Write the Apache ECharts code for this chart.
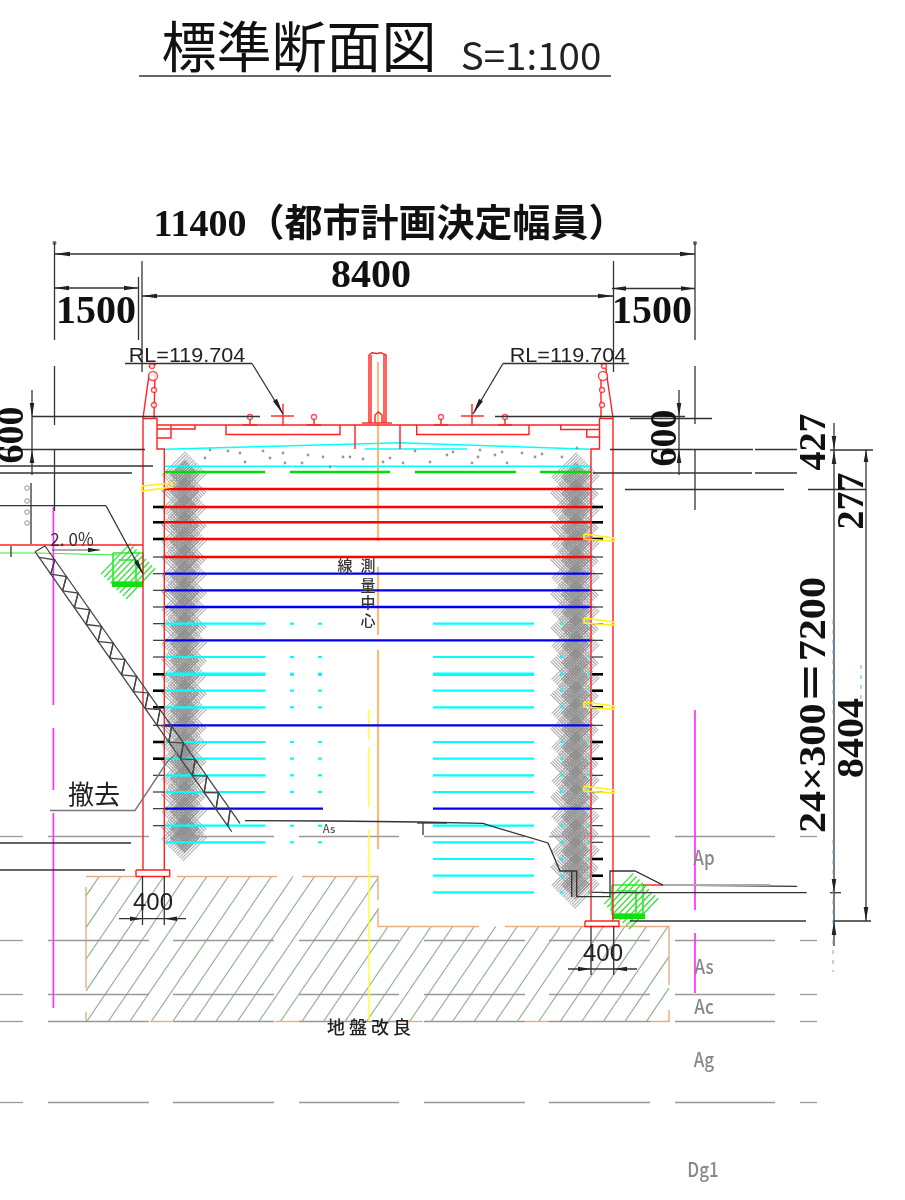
<!DOCTYPE html>
<html><head><meta charset="utf-8">
<style>html,body{margin:0;padding:0;background:#fff}#c{width:905px;height:1200px}</style>
<script src="https://cdn.jsdelivr.net/npm/echarts@6/dist/echarts.min.js"></script>
</head><body><div id="c"></div>
<script>
const redRows  = [489,507,522.3,539,557];
const blueRows = [573.7,590.3,607,640.3,725.3];
const cyanRows = [623.7,657,690.7,707.3,742,758.7,775.3,792,825.7,842.3];
const cyanRowHeavy = [674.3];
const cyanRowsRightOnly = [859,875.7,892.3];
const blueRowShort = [808.7];
const stubsLeftThick  = [507,522.3,539,674.3,690.7,707.3,742,758.7];
const stubsLeftThin   = [557,573.7,590.3,607,623.7,640.3,657,725.3,775.3,792,808.7,825.7];
const stubsRightThick = [507,522.3,539,674.3,690.7,707.3,742,758.7,859,875.7];
const stubsRightThin  = [489,557,573.7,590.3,607,623.7,640.3,657,725.3,775.3,792,808.7,825.7,842.3,892.3];
const strataRows = [836.5,940.5,994.5,1021.5,1102.5];
const strataSpans = [[0,23],[48,149],[173,274],[299,399],[424,525],[549,650],[675,775],[800,817]];
const pileCentersLeft  = [474,508,541,575,609,643,676,710,744,778,811,838];
const pileCentersRight = [476,510,543,577,611,645,678,712,746,780,816,850,884];
const gravelDots = [[205,458],[210,450],[228,451],[240,453],[245,462],[263,451],[270,458],[283,453],[285,463],[302,463],[308,455],[323,457],[330,467],[343,457],[350,457],[363,459],[383,462],[390,458],[403,463],[415,451],[430,462],[447,455],[453,452],[472,463],[478,457],[480,450],[495,455],[502,452],[507,463],[522,453],[535,457],[542,454],[562,457],[577,448]];
const trussPanels = [0.02,0.08,0.14,0.2,0.26,0.32,0.38,0.44,0.5,0.56,0.62,0.68,0.74,0.8,0.86,0.92];
const groundOutline = [[86,876.5],[378,876.5],[378,926.5],[669,926.5],[669,1021.5],[86,1021.5]];

const dimLines = [
 [54.5,254,695,254],[142,296,613.5,296],[54.5,288,138.5,288],[612,288.5,695,288.5],
 [54.5,243,54.5,340],[54.5,366,54.5,425],[54.5,450,54.5,511],[695,243,695,340],[695,366,695,424],[695,450,695,510],
 [142,261,142,372],[613.5,261,613.5,372],[138.5,277,138.5,340],
 [32,390,32,475],[679,390,679,475],
 [32,416.5,260,416.5],[495,416.5,685,416.5],[630,418.5,712,418.5],
 [0,449.5,145,449.5],[610,449.5,753,449.5],[755,449.5,797,449.5],
 [0,466,153,466],[0,473,132,473],[593,473,752,473],[755,473,797,473],
 [625,489.5,784,489.5],[808,489.5,866,489.5],
 [834,423,834,946],[866,450,866,921],[830,450,873,450],
 [601.7,892.7,806.7,892.7],[830,892.7,841,892.7],[630,921,806,921],[833,921,871,921],
 [142.5,876,142.5,925],[164.3,876,164.3,925],[119,918.7,186,918.7],
 [591,926,591,975],[613.7,926,613.7,975],[568,969,637,969],
 [0,843,131,843],[0,870,125,870],
 [125,363.5,252,363.5],[252,363.5,283,414],[503,363.5,629,363.5],[503,363.5,473,414],
 [0,505.7,106,505.7],[106,505.7,143,574],[31,483,31,544],[11,546,11,557],[139,76,611,76]
];
const arrowHeads = [
 [54.5,254,70,254],[695,254,680,254],[142,296,157,296],[613.5,296,598,296],
 [54.5,288,69,288],[138.5,288,124,288],[612,288.5,626,288.5],[695,288.5,681,288.5],
 [32,416.5,32,403],[32,449.5,32,463],[679,416.5,679,403],[679,449.5,679,463],
 [834,450,834,436],[834,450,834,464],[866,450,866,462],[834,892.7,834,879],[834,921,834,935],[866,921,866,907],
 [142.5,918.7,130,918.7],[164.3,918.7,177,918.7],[591,969,578,969],[613.7,969,627,969],
 [283,414,275,400],[473,414,481,400],[143,574,136,561],[100,550,88,550]
];
const wallLines = [
 [143,870,143,418.5,157,418.5,157,449,164.3,449,164.3,870],
 [136,870,169.7,870,169.7,876.5,136,876.5,136,870],
 [613,921,613,418.5,599.5,418.5,599.5,449,591,449,591,921],
 [585,921,619,921,619,926.5,585,926.5,585,921],
 [157,425,226,425],[226,425,226,434.5,340,434.5,340,425],[226,425,355,425],
 [355,449,355,425,400,425,400,449],[400,425,599.5,425],
 [416.7,425,416.7,434.5,529,434.5,529,425],
 [157,429,195,429,195,425],[157,438,171,438,171,425],
 [560.7,425,560.7,429.5,599.5,429.5],[586.7,429.5,586.7,437,599.5,437],
 [271,416,294,416],[283,404,283,425],[461,416,484,416],[472,404,472,425],
 [369,423,369,355,372,352.7,377,353.5,381,352.7,386,355,386,423],[371,423,371,355],[384,423,384,355],
 [375,423,375,415,378.5,412,382,415,382,423],[362,423,392,423],
 [143,418,149,375],[155,372,154,418],[606,370,613,418],[601,380,601,418],
 [243,425,257,425],[307,425,321,425],[434,425,448,425],[498,425,512,425],
 [250,425,250,418],[314,425,314,418],[441,425,441,418],[505,425,505,418],
 [149,367,156,364],[601,364,607,370],[643,885,663,885],[0,545,143,545]
];
const railCircles = [[250,417],[314,417],[441,417],[505,417],[154,390],[154,405],[602,390],[602,405],[152,366],[604,366]];
const railBigCircles = [[153,376],[603,376]];
const groundProfile = [245,820.7,330,821,420,822,483,823.3,493,826.7,548,843,560,871,576.7,871,576.7,896.7,610,896.7,610,871,635,871,663,885,797,886.3];
const profileExtra = [[571.7,871,571.7,897],[417,823,447,823],[423,823,423,835]];
const profileGrey = [[663,885,770,885]];
const leaderGrey = [[50,810.5,135,810.5,167,762,178,752]];
const slabCyan = [[165,449.3,400,442.7,590,449.3],[164,466.3,591,466.3],[365,449,467,449]];
const greenRows = [[164,265],[290,390],[415,516],[540,591]];
const greenThin = [[0,553,35,553],[37,553,118,555]];
const orangeAxis = [[378,362],[378,541],[378,567],[378,635],[378,650],[378,849]];
const yellowAxis = [[369,710,369,740],[369,747,369,807],[369,830,369,1021]];
const magentaLines = [[53.4,507,53.4,705],[53.4,728,53.4,790],[53.4,813,53.4,1008],[695,710,695,910],[695,933,695,993]];
const yellowWales = [
 [142,486,172,483,172,487,142,491,142,486],
 [584,534,614,538,614,541,584,539,584,534],[584,618,614,622,614,625,584,623,584,618],
 [584,702,614,706,614,709,584,707,584,702],[584,786,614,790,614,793,584,791,584,786]
];
const greenBlockLeft  = {centre:[128,571],box:[[113,553,143,553,143,582,113,582,113,553],[119,560,136,560,136,582]],heavy:[112,584.5,143,584.5]};
const greenBlockRight = {centre:[631,901],box:[[612,885,643,885,643,914,612,914,612,885],[618,891,636,891,636,914]],heavy:[612,916.5,645,916.5]};
const blueDashes = [[833,620,833,720],[833,840,833,972],[861,665,861,700]];

// ---------- helpers (geometry only) ----------
const toPts = f => { const p=[]; for(let i=0;i<f.length;i+=2) p.push([f[i],f[i+1]]); return p; };
const lineSeries = (color,width,polys,z,type) => ({type:'lines',coordinateSystem:'cartesian2d',polyline:true,silent:true,z:z||3,
  lineStyle:{color,width,opacity:1,type:type||'solid',cap:'butt'},data:polys.map(f=>({coords:toPts(f)}))});
function hatch(poly,dx,dy,spacing,through){
  const m=Math.hypot(dx,dy),ux=dx/m,uy=dy/m,nx=-uy,ny=ux,out=[];
  const cs=poly.map(p=>p[0]*nx+p[1]*ny),lo=Math.min(...cs),hi=Math.max(...cs);
  const c0=through?through[0]*nx+through[1]*ny:lo;
  let c=c0+Math.ceil((lo-c0)/spacing)*spacing;
  for(;c<=hi;c+=spacing){
    const ts=[];
    poly.forEach((a,i)=>{const b=poly[(i+1)%poly.length],ca=a[0]*nx+a[1]*ny,cb=b[0]*nx+b[1]*ny;
      if((ca<c)!==(cb<c)){const k=(c-ca)/(cb-ca);ts.push((a[0]+k*(b[0]-a[0]))*ux+(a[1]+k*(b[1]-a[1]))*uy);}});
    ts.sort((p,q)=>p-q);
    for(let i=0;i+1<ts.length;i+=2) out.push([ts[i]*ux+c*nx,ts[i]*uy+c*ny,ts[i+1]*ux+c*nx,ts[i+1]*uy+c*ny]);
  }
  return out;
}
const diamond = (x,y,r)=>[[x-r,y],[x,y-r],[x+r,y],[x,y+r]];
const hatchDiamonds = (cx,list,r,dx,dy,s)=>list.flatMap(y=>hatch(diamond(cx,y,r),dx,dy,s));
const hRows = (ys,x0,x1)=>ys.map(y=>[x0,y,x1,y]);
const dotsAt = ys => ys.flatMap(y=>[[290,y,294,y],[318,y,322,y],[560,y,563,y],[588,y,591,y]]);
const dotsRight = ys => ys.flatMap(y=>[[560,y,563,y],[588,y,591,y]]);
const strata = strataRows.flatMap(y=>strataSpans.map(s=>[s[0],y,s[1],y]));
const L=t=>[35+196.7*t,551.7+280*t], R=t=>[45+195*t,546+277.3*t];
const truss=[[35,551.7,231.7,831.7],[45,546,240,823.3],[35,551.7,45,546]].concat(
  trussPanels.map(t=>[...L(t),...R(t+0.03),...L(t+0.06)]),
  trussPanels.map(t=>[...L(t+0.06),...R(t+0.03+0.0)]));
const axisPairs=[]; for(let i=0;i<orangeAxis.length;i+=2) axisPairs.push([...orangeAxis[i],...orangeAxis[i+1]]);

const series=[
  lineSeries('#8fb08c',1.2,hatch(groundOutline,0.68,-1,17.8,[86.7,1021.5]),2),
  lineSeries('#e3ae82',1.4,[[86,876.5,135,876.5],[177,876.5,277,876.5],[302,876.5,378,876.5,378,900],[378,908,378,926.5,479,926.5],[505,926.5,669,926.5,669,985],[669,1010,669,1021.5,650,1021.5],[525,1021.5,550,1021.5],[150,1021.5,172,1021.5],[275,1021.5,300,1021.5],[400,1021.5,423,1021.5],[86,887,86,988],[86,1012,86,1021.5]],2),
  lineSeries('#b0b0b0',1.1,hatchDiamonds(184,pileCentersLeft,24,1,-1,2.3),2),
  lineSeries('#b0b0b0',1.1,hatchDiamonds(575,pileCentersRight,25,1,-1,2.3),2),
  lineSeries('#a8a8a8',1.1,hatchDiamonds(184,pileCentersLeft.map(y=>y+17).slice(0,-1),24,1,1,2.3),2),
  lineSeries('#a8a8a8',1.1,hatchDiamonds(575,pileCentersRight.map(y=>y+17).slice(0,-1),25,1,1,2.3),2),
  lineSeries('#8e8e8e',1.2,hatchDiamonds(184,pileCentersLeft.flatMap(y=>[y,y+17]).slice(0,-1),15,1,-1,1.9),2),
  lineSeries('#8e8e8e',1.2,hatchDiamonds(575,pileCentersRight.flatMap(y=>[y,y+17]).slice(0,-1),15,1,-1,1.9),2),
  lineSeries('#999999',1.3,strata,3),
  lineSeries('#ff9a30',1.4,axisPairs,3),
  lineSeries('#ffff30',1.4,yellowAxis,3),
  lineSeries('#ff30ff',1.7,magentaLines,3),
  lineSeries('#40e040',1.4,[...hatch(diamond(...greenBlockLeft.centre,30),1,-1.05,4.4),...hatch(diamond(...greenBlockRight.centre,30),1,-1.05,4.4)],3),
  lineSeries('#22ee22',1.6,[...greenBlockLeft.box,...greenBlockRight.box],3),
  lineSeries('#10e010',5,[greenBlockLeft.heavy,greenBlockRight.heavy],3),
  lineSeries('#30f030',1,greenThin,3),
  lineSeries('#00ffff',1.4,slabCyan,4),
  lineSeries('#00e000',2.6,greenRows.map(s=>[s[0],472,s[1],472]),4),
  lineSeries('#ff0000',2.5,hRows(redRows,164,592),4),
  lineSeries('#0000ee',2.3,hRows(blueRows,164,592),4),
  lineSeries('#0000ee',2.3,hRows(blueRowShort,164,323).concat(hRows(blueRowShort,433,592)),4),
  lineSeries('#00ffff',2.2,hRows(cyanRows,164,265.5).concat(hRows(cyanRows,433,534),dotsAt(cyanRows),hRows(cyanRowsRightOnly,433,534),dotsRight(cyanRowsRightOnly)),4),
  lineSeries('#00ffff',3.4,hRows(cyanRowHeavy,164,265.5).concat(hRows(cyanRowHeavy,433,534),dotsAt(cyanRowHeavy)),4),
  lineSeries('#ff2020',1.4,wallLines,5),
  lineSeries('#000000',2.6,hRows(stubsLeftThick,153,164).concat(hRows(stubsRightThick,592,603)),5),
  lineSeries('#222222',1.1,hRows(stubsLeftThin,153,164).concat(hRows(stubsRightThin,592,603)),5),
  lineSeries('#ffef20',1.7,yellowWales,6),
  lineSeries('#444444',1.3,truss,6),
  lineSeries('#333333',1.3,[groundProfile,...profileExtra],6),
  lineSeries('#aaaaaa',2,profileGrey,6),
  lineSeries('#777777',1.4,leaderGrey,6),
  lineSeries('#333333',1.3,dimLines,7),
  lineSeries('#555555',1,[[52,550,100,550]],7),
  lineSeries('#66aadd',1,blueDashes,7,[4,6]),
  {type:'scatter',coordinateSystem:'cartesian2d',silent:true,z:6,symbolSize:2.8,itemStyle:{color:'#808080'},data:gravelDots},
  {type:'scatter',silent:true,z:6,symbolSize:5,itemStyle:{color:'#fff',borderColor:'#ff2020',borderWidth:1.3},data:railCircles},
  {type:'scatter',silent:true,z:6,symbolSize:9,itemStyle:{color:'#fff',borderColor:'#ff2020',borderWidth:1.4},data:railBigCircles},
  {type:'scatter',silent:true,z:6,symbolSize:4,itemStyle:{color:'#444'},data:[[54.5,243],[695,243]]},
  {type:'scatter',silent:true,z:6,symbolSize:4.5,itemStyle:{color:'#fff',borderColor:'#777',borderWidth:1},data:[[27,488],[27,501],[27,512],[27,523]]},
  {type:'custom',coordinateSystem:'cartesian2d',silent:true,z:8,data:arrowHeads,
   renderItem:(p,api)=>{
     const a=api.coord([api.value(0),api.value(1)]),b=api.coord([api.value(2),api.value(3)]);
     const dx=b[0]-a[0],dy=b[1]-a[1],m=Math.hypot(dx,dy),nx=-dy/m*2.3,ny=dx/m*2.3;
     return {type:'polygon',shape:{points:[a,[b[0]+nx,b[1]+ny],[b[0]-nx,b[1]-ny]]},style:{fill:'#222'}};
   },encode:{x:0,y:1}}
];

// ---------- texts ----------
const serif="'Liberation Serif','Noto Sans CJK JP'", cjk="'Noto Sans CJK JP'", sans="'Liberation Sans','Noto Sans CJK JP'";
const T=(text,x,y,font,fill,extra)=>Object.assign({type:'text',x,y,z:100,silent:true,style:{text,font,fill:fill||'#111',align:'center',verticalAlign:'middle'}},extra||{});
const up={rotation:Math.PI/2};
const texts=[
  T('標準断面図',299,46,`400 55px ${cjk}`,'#111'),
  T('S=1:100',531,56,`400 36px ${cjk}`,'#222',{scaleX:1.07,scaleY:1.05}),
  T('11400（都市計画決定幅員）',390,226,`bold 38px ${serif}`),
  T('8400',371,277,`bold 40px ${serif}`),
  T('1500',96,313,`bold 40px ${serif}`),
  T('1500',652,313,`bold 40px ${serif}`),
  T('600',13,435,`bold 38px ${serif}`,'#111',up),
  T('600',666,438,`bold 38px ${serif}`,'#111',up),
  T('427',815,442,`bold 38px ${serif}`,'#111',up),
  T('277',853,501,`bold 38px ${serif}`,'#111',up),
  T('24×300＝7200',815,705,`bold 38px ${serif}`,'#111',{rotation:Math.PI/2,scaleX:1.11}),
  T('8404',853,738,`bold 38px ${serif}`,'#111',{rotation:Math.PI/2,scaleX:1.05}),
  T('RL=119.704',187,356,`400 20px ${sans}`,'#222',{scaleX:1.08}),
  T('RL=119.704',568,356,`400 20px ${sans}`,'#222',{scaleX:1.08}),
  T('2. 0%',72,539,`400 18px ${cjk}`,'#333',{scaleX:0.95}),
  T('撤去',94,794,`400 26px ${cjk}`,'#222'),
  T('線',345,565,`500 15px ${cjk}`,'#333'),
  T('測',368,565,`500 15px ${cjk}`,'#333'),
  T('量',368,585,`500 15px ${cjk}`,'#333'),
  T('中',368,602,`500 15px ${cjk}`,'#333'),
  T('心',368,620,`500 15px ${cjk}`,'#333'),
  T('As',329,829,`500 11px ${cjk}`,'#555'),
  T('400',153,903,`400 24px ${sans}`,'#222'),
  T('400',603,954,`400 24px ${sans}`,'#222'),
  T('地 盤 改 良',369,1027,`500 18px ${cjk}`,'#222'),
  T('Ap',704,857,`500 20px ${cjk}`,'#888',{scaleX:0.85}),
  T('As',704,966,`500 20px ${cjk}`,'#888',{scaleX:0.85}),
  T('Ac',704,1006,`500 20px ${cjk}`,'#888',{scaleX:0.85}),
  T('Ag',704,1059,`500 20px ${cjk}`,'#888',{scaleX:0.85}),
  T('Dg1',703,1169,`500 20px ${cjk}`,'#888',{scaleX:0.85})
];

const chart=echarts.init(document.getElementById('c'),null,{renderer:'canvas',width:905,height:1200});
chart.setOption({
  animation:false,backgroundColor:'#fff',
  grid:{left:0,right:0,top:0,bottom:0},
  xAxis:{type:'value',min:0,max:905,show:false},
  yAxis:{type:'value',min:0,max:1200,inverse:true,show:false},
  graphic:{elements:texts},
  series
});
</script></body></html>
